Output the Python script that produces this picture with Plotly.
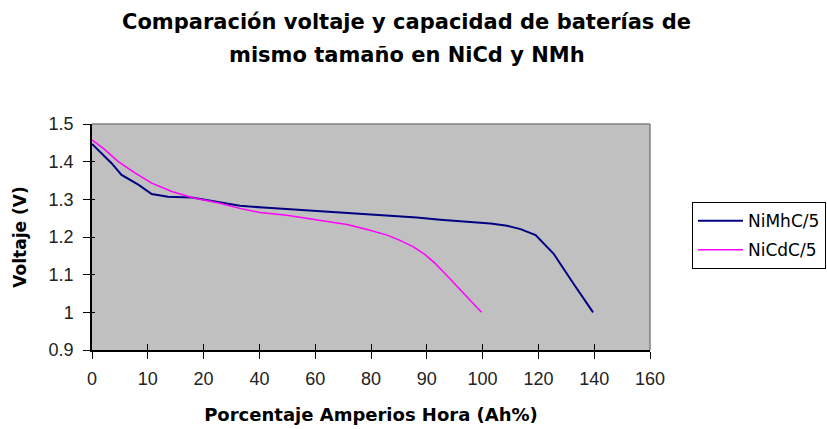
import plotly.graph_objects as go

# Category axis labels (Ah %), evenly spaced along the axis
tick_labels = ["0", "10", "20", "40", "60", "80", "90", "100", "120", "140", "160"]

# Positions along the category axis (0 = first label, 10 = last label) and voltages
nimh_pos = [0.0, 0.35, 0.53, 0.83, 1.07, 1.36, 1.79, 1.97, 2.30, 2.65, 3.07, 3.49,
            4.03, 4.51, 4.99, 5.40, 5.82, 6.24, 6.90, 7.14, 7.44, 7.68, 7.95,
            8.27, 8.63, 8.98]
nimh_volt = [1.447, 1.396, 1.365, 1.339, 1.314, 1.307, 1.305, 1.300, 1.291, 1.283,
             1.278, 1.274, 1.269, 1.265, 1.261, 1.257, 1.252, 1.246, 1.240, 1.236,
             1.230, 1.221, 1.205, 1.156, 1.076, 1.000]

nicd_pos = [0.0, 0.23, 0.47, 0.77, 1.07, 1.43, 1.79, 2.27, 2.65, 3.01, 3.49, 3.85,
            4.21, 4.57, 4.93, 5.29, 5.52, 5.76, 5.97, 6.15, 6.36, 6.60, 6.98]
nicd_volt = [1.458, 1.432, 1.400, 1.370, 1.343, 1.321, 1.305, 1.290, 1.276, 1.265,
             1.258, 1.250, 1.242, 1.233, 1.220, 1.205, 1.191, 1.174, 1.153, 1.130,
             1.098, 1.059, 1.000]

y_ticks = [0.9, 1.0, 1.1, 1.2, 1.3, 1.4, 1.5]
y_ticktext = ["0.9", "1", "1.1", "1.2", "1.3", "1.4", "1.5"]

TICK_FONT = "Liberation Sans, Arial, sans-serif"
TEXT_FONT = "DejaVu Sans, Verdana, sans-serif"

fig = go.Figure()
fig.add_trace(go.Scatter(x=nimh_pos, y=nimh_volt, mode="lines", name="NiMhC/5",
                         line=dict(color="#000080", width=2),
                         legendgroup="a"))
fig.add_trace(go.Scatter(x=nicd_pos, y=nicd_volt, mode="lines", name="NiCdC/5",
                         line=dict(color="#FF00FF", width=1.5),
                         legendgroup="b"))
# transparent copy on the overlay axes so their inner tick marks get drawn
fig.add_trace(go.Scatter(x=nimh_pos, y=nimh_volt, mode="lines", xaxis="x2",
                         yaxis="y2", opacity=0, showlegend=False,
                         hoverinfo="skip", line=dict(width=0)))

axis_common = dict(showgrid=False, zeroline=False, showline=True,
                   linecolor="#000000", linewidth=1.5, tickcolor="#000000",
                   tickwidth=1.2)

PLOT_L, PLOT_R, PLOT_T, PLOT_B = 92, 650, 124, 349.6
W = PLOT_R - PLOT_L
H = PLOT_B - PLOT_T

fig.update_layout(
    width=827, height=429,
    margin=dict(l=PLOT_L, r=827 - PLOT_R, t=PLOT_T, b=429 - PLOT_B,
                autoexpand=False),
    paper_bgcolor="white",
    plot_bgcolor="#C0C0C0",
    font=dict(family=TICK_FONT, color="#000000"),
    showlegend=True,
    legend=dict(x=(826 - PLOT_L) / W, y=(PLOT_B - 202) / H,
                xanchor="right", yanchor="top",
                bordercolor="#000000", borderwidth=1, bgcolor="white",
                font=dict(size=17, family=TEXT_FONT), tracegroupgap=4,
                itemwidth=45),
    xaxis=dict(range=[0, 10], tickmode="array", tickvals=list(range(11)),
               ticktext=tick_labels, ticks="outside", ticklen=7,
               ticklabelstandoff=5,
               tickfont=dict(size=18, family=TICK_FONT, color="#222222"),
               title=dict(text="<b>Porcentaje Amperios Hora (Ah%)</b>",
                          font=dict(size=18, family=TEXT_FONT), standoff=20),
               **axis_common),
    # second bottom axis only to draw the inner half of the crossing ticks
    xaxis2=dict(range=[0, 10], tickmode="array", tickvals=list(range(11)),
                overlaying="x", anchor="y2", side="bottom", ticks="inside",
                ticklen=6, showticklabels=False, **axis_common),
    yaxis=dict(range=[0.9, 1.5], tickmode="array", tickvals=y_ticks,
               ticktext=y_ticktext, ticks="outside", ticklen=7,
               ticklabelstandoff=6,
               tickfont=dict(size=18, family=TICK_FONT, color="#222222"),
               title=dict(text="<b>Voltaje (V)</b>",
                          font=dict(size=17, family=TEXT_FONT), standoff=18),
               **axis_common),
    yaxis2=dict(range=[0.9, 1.5], tickmode="array", tickvals=y_ticks,
                overlaying="y", anchor="x2", side="left", ticks="inside",
                ticklen=3, showticklabels=False, **axis_common),
    annotations=[
        dict(text="<b>Comparación voltaje y capacidad de baterías de</b>",
             xref="paper", yref="paper", x=(406 - PLOT_L) / W, y=(PLOT_B - 22) / H,
             xanchor="center", yanchor="middle", showarrow=False,
             font=dict(size=21, family=TEXT_FONT)),
        dict(text="<b>mismo tamaño en NiCd y NMh</b>",
             xref="paper", yref="paper", x=(407 - PLOT_L) / W, y=(PLOT_B - 55) / H,
             xanchor="center", yanchor="middle", showarrow=False,
             font=dict(size=21, family=TEXT_FONT)),
    ],
    shapes=[
        # grey border on the top and right sides of the plotting area
        dict(type="line", xref="paper", yref="paper", x0=0, x1=1, y0=1, y1=1,
             line=dict(color="#808080", width=1.5)),
        dict(type="line", xref="paper", yref="paper", x0=1, x1=1, y0=0, y1=1,
             line=dict(color="#808080", width=1.5)),
    ],
)

fig.write_html("out.html")
